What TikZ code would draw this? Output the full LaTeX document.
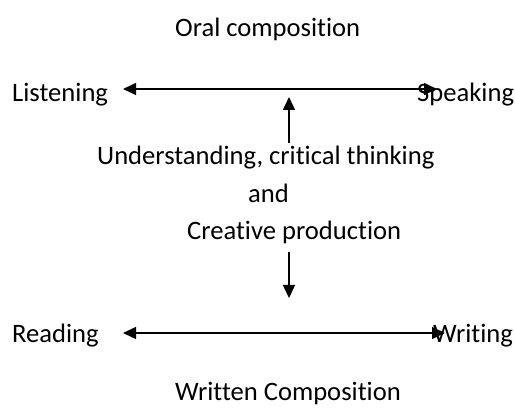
\documentclass[tikz,border=0pt]{standalone}
\usepackage{fontspec}
\setmainfont[Ligatures={NoCommon,NoRequired,NoContextual}]{Carlito}
\usetikzlibrary{arrows.meta}
\begin{document}
\begin{tikzpicture}[x=1pt,y=1pt,
  lbl/.style={anchor=base west,inner sep=0pt,font=\fontsize{26.6}{32}\selectfont},
  conn/.style={line width=1.5pt,-{Triangle[length=13pt,width=12pt]}},
  dconn/.style={line width=1.5pt,{Triangle[length=13pt,width=12pt]}-{Triangle[length=13pt,width=12pt]}}]
\useasboundingbox (0,0) rectangle (515,-409);
\node[lbl] (oral) at (175,-37) {Oral composition};
\node[lbl] (listen) at (12,-102) {Listening};
\node[lbl] (speak) at (417,-102) {Speaking};
\node[lbl] (under) at (97,-165) {Understanding, critical thinking};
\node[lbl] (and) at (248,-203) {and};
\node[lbl] (creat) at (187,-240) {Creative production};
\node[lbl] (read) at (12,-343) {Reading};
\node[lbl] (write) at (433,-343) {Writing};
\node[lbl] (written) at (175,-401) {Written Composition};
\coordinate (tl) at (123,-89);
\coordinate (tr) at (437,-89);
\coordinate (bl) at (123,-333);
\coordinate (br) at (445,-333);
\coordinate (ub) at (289,-143);
\coordinate (ut) at (289,-97);
\coordinate (dt) at (289,-252);
\coordinate (db) at (289,-298);
\draw[dconn] (tl) -- (tr);
\draw[dconn] (bl) -- (br);
\draw[conn] (ub) -- (ut);
\draw[conn] (dt) -- (db);
\end{tikzpicture}
\end{document}
